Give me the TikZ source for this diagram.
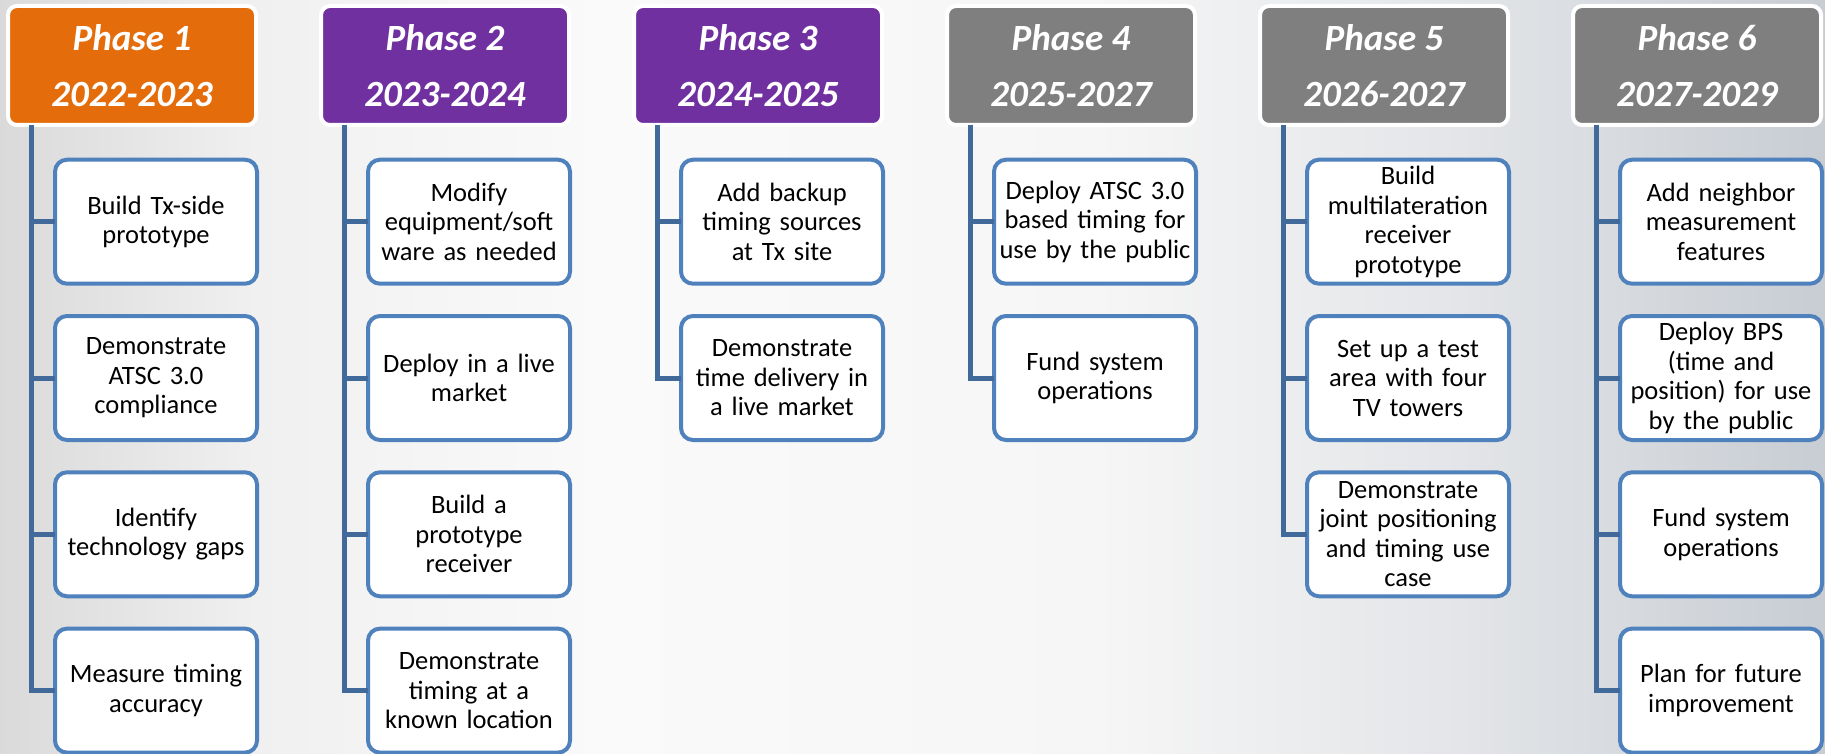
\documentclass[tikz,border=0pt]{standalone}
\usepackage{fontspec}
\setmainfont{Carlito}
\definecolor{bgA}{HTML}{DADADA}
\definecolor{bgB}{HTML}{F0F0F0}
\definecolor{bgC}{HTML}{FAFAFA}
\definecolor{bgD}{HTML}{F6F6F6}
\definecolor{bgE}{HTML}{E3E5E8}
\definecolor{bgF}{HTML}{C8CDD3}
\definecolor{phOrange}{HTML}{E46C0A}
\definecolor{phPurple}{HTML}{7030A0}
\definecolor{phGray}{HTML}{7F7F7F}
\definecolor{boxBlue}{HTML}{4F81BD}
\definecolor{connBlue}{HTML}{416A9B}
\pgfdeclarehorizontalshading{bgshade}{100bp}{color(0bp)=(bgA); color(25bp)=(bgA); color(32bp)=(bgB); color(41.5bp)=(bgC); color(55bp)=(bgD); color(65bp)=(bgE); color(75bp)=(bgF); color(100bp)=(bgF)}
\tikzset{
  phasehead/.style={draw=white, line width=4pt, rounded corners=9pt, minimum width=248pt, minimum height=119pt, inner sep=0pt, outer sep=0pt, text=white, align=center, font=\bfseries\itshape\fontsize{37}{56}\selectfont},
  taskbox/.style={draw=boxBlue, fill=white, line width=4pt, rounded corners=12pt, minimum width=202pt, minimum height=124pt, text width=196pt, inner sep=0pt, outer sep=0pt, align=center, text=black, font=\fontsize{26.5}{29.5}\selectfont},
  conn/.style={draw=connBlue, line width=5pt}
}
\begin{document}
\begin{tikzpicture}[x=1pt,y=-1pt]
\shade[shading=bgshade] (0,0) rectangle (1825,754);
\useasboundingbox (0,0) rectangle (1825,754);

% headers
\node[phasehead, fill=phOrange] (h1) at (132,65.5) {Phase 1\\2022-2023};
\node[phasehead, fill=phPurple] (h2) at (445,65.5) {Phase 2\\2023-2024};
\node[phasehead, fill=phPurple] (h3) at (758,65.5) {Phase 3\\2024-2025};
\node[phasehead, fill=phGray] (h4) at (1071,65.5) {Phase 4\\2025-2027};
\node[phasehead, fill=phGray] (h5) at (1384,65.5) {Phase 5\\2026-2027};
\node[phasehead, fill=phGray] (h6) at (1697,65.5) {Phase 6\\2027-2029};

% phase 1
\node[taskbox] (b11) at (156,221.7) {Build Tx-side\\prototype};
\node[taskbox] (b12) at (156,378) {Demonstrate\\ATSC 3.0\\compliance};
\node[taskbox] (b13) at (156,534.3) {Identify\\technology gaps};
\node[taskbox] (b14) at (156,690.6) {Measure timing\\accuracy};
% phase 2
\node[taskbox] (b21) at (469,221.7) {Modify\\equipment/soft\\ware as needed};
\node[taskbox] (b22) at (469,378) {Deploy in a live\\market};
\node[taskbox] (b23) at (469,534.3) {Build a\\prototype\\receiver};
\node[taskbox] (b24) at (469,690.6) {Demonstrate\\timing at a\\known location};
% phase 3
\node[taskbox] (b31) at (782,221.7) {Add backup\\timing sources\\at Tx site};
\node[taskbox] (b32) at (782,378) {Demonstrate\\time delivery in\\a live market};
% phase 4
\node[taskbox] (b41) at (1095,221.7) {Deploy ATSC 3.0\\based timing for\\use by the public};
\node[taskbox] (b42) at (1095,378) {Fund system\\operations};
% phase 5
\node[taskbox] (b51) at (1408,221.7) {Build\\multilateration\\receiver\\prototype};
\node[taskbox] (b52) at (1408,378) {Set up a test\\area with four\\TV towers};
\node[taskbox] (b53) at (1408,534.3) {Demonstrate\\joint positioning\\and timing use\\case};
% phase 6
\node[taskbox] (b61) at (1721,221.7) {Add neighbor\\measurement\\features};
\node[taskbox] (b62) at (1721,378) {Deploy BPS\\(time and\\position) for use\\by the public};
\node[taskbox] (b63) at (1721,534.3) {Fund system\\operations};
\node[taskbox] (b64) at (1721,690.6) {Plan for future\\improvement};

% connectors
\begin{scope}[on background layer/.style={}]
\end{scope}
\draw[conn] ([xshift=23pt]h1.south west) |- (b14.west);
\draw[conn] ([xshift=23pt]h1.south west |- b11.west) -- (b11.west);
\draw[conn] ([xshift=23pt]h1.south west |- b12.west) -- (b12.west);
\draw[conn] ([xshift=23pt]h1.south west |- b13.west) -- (b13.west);

\draw[conn] ([xshift=23pt]h2.south west) |- (b24.west);
\draw[conn] ([xshift=23pt]h2.south west |- b21.west) -- (b21.west);
\draw[conn] ([xshift=23pt]h2.south west |- b22.west) -- (b22.west);
\draw[conn] ([xshift=23pt]h2.south west |- b23.west) -- (b23.west);

\draw[conn] ([xshift=23pt]h3.south west) |- (b32.west);
\draw[conn] ([xshift=23pt]h3.south west |- b31.west) -- (b31.west);

\draw[conn] ([xshift=23pt]h4.south west) |- (b42.west);
\draw[conn] ([xshift=23pt]h4.south west |- b41.west) -- (b41.west);

\draw[conn] ([xshift=23pt]h5.south west) |- (b53.west);
\draw[conn] ([xshift=23pt]h5.south west |- b51.west) -- (b51.west);
\draw[conn] ([xshift=23pt]h5.south west |- b52.west) -- (b52.west);

\draw[conn] ([xshift=23pt]h6.south west) |- (b64.west);
\draw[conn] ([xshift=23pt]h6.south west |- b61.west) -- (b61.west);
\draw[conn] ([xshift=23pt]h6.south west |- b62.west) -- (b62.west);
\draw[conn] ([xshift=23pt]h6.south west |- b63.west) -- (b63.west);
\end{tikzpicture}
\end{document}
